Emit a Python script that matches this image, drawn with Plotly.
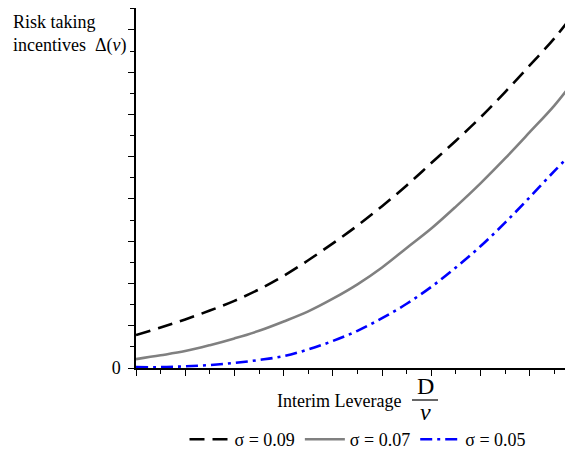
import plotly.graph_objects as go

# Data (x and y in major-tick units; ticks are unlabeled)
x_vals = [0.0, 0.5, 1.0, 1.5, 2.0, 2.5, 3.0, 3.5, 4.0, 4.5, 5.0, 5.5, 6.0,
          6.5, 7.0, 7.5, 8.0, 8.5, 8.88]
delta_s09 = [0.78, 0.96, 1.15, 1.36, 1.59, 1.86, 2.18, 2.55, 2.95, 3.37, 3.83,
             4.32, 4.85, 5.38, 5.93, 6.53, 7.16, 7.80, 8.36]
delta_s07 = [0.21, 0.30, 0.40, 0.54, 0.70, 0.88, 1.10, 1.34, 1.64, 1.98, 2.38,
             2.84, 3.30, 3.82, 4.37, 4.96, 5.58, 6.21, 6.77]
delta_s05 = [0.02, 0.02, 0.04, 0.07, 0.12, 0.19, 0.28, 0.44, 0.64, 0.88, 1.18,
             1.52, 1.92, 2.38, 2.88, 3.44, 4.04, 4.66, 5.11]
series_names = ["σ = 0.09", "σ = 0.07", "σ = 0.05"]
major_ticks = [0, 1, 2, 3, 4, 5, 6, 7, 8]
minor_ticks = [0.5, 1.5, 2.5, 3.5, 4.5, 5.5, 6.5, 7.5, 8.5]
y_tick_text = ["0", "", "", "", "", "", "", "", ""]

FONT = "Liberation Serif, Times New Roman, serif"

# page offset compensation (body margin 8px)
PX0, PW = 136, 437
PY_BOTTOM, PH = 368, 360


def px(x):
    return (x - PX0) / PW


def py(y):
    return (PY_BOTTOM - y) / PH


fig = go.Figure()
styles = [
    dict(color="black", width=2.6, dash="15px,8px"),
    dict(color="#808080", width=2.6, dash="solid"),
    dict(color="#0000FF", width=2.6, dash="12px,5px,3px,5px"),
]
for ys, name, st in zip([delta_s09, delta_s07, delta_s05], series_names, styles):
    fig.add_trace(go.Scatter(x=x_vals, y=ys, mode="lines", name=name,
                             line=dict(shape="spline", smoothing=1.0, **st)))

tick_common = dict(ticks="outside", tickcolor="black", tickwidth=1.2)

fig.update_layout(
    width=565, height=450,
    margin=dict(l=128, r=0, t=0, b=90, pad=0),
    paper_bgcolor="white", plot_bgcolor="white",
    font=dict(family=FONT, size=18, color="black"),
    showlegend=True,
    legend=dict(orientation="h", x=px(358), xanchor="center", y=py(440), yanchor="middle",
                font=dict(family=FONT, size=18), itemwidth=40,
                tracegroupgap=0, bgcolor="rgba(0,0,0,0)"),
    xaxis=dict(range=[0, 8.88], showgrid=False, zeroline=False,
               showline=True, linecolor="black", linewidth=1.5,
               tickmode="array", tickvals=major_ticks, ticktext=[""] * len(major_ticks),
               ticklen=6, **tick_common,
               minor=dict(tickmode="array", tickvals=minor_ticks, ticklen=4,
                          showgrid=False, **tick_common)),
    yaxis=dict(range=[0, 8.52], showgrid=False, zeroline=False,
               showline=True, linecolor="black", linewidth=1.5,
               tickmode="array", tickvals=major_ticks, ticktext=y_tick_text,
               ticklen=6, ticklabelstandoff=4, **tick_common,
               tickfont=dict(family=FONT, size=18),
               minor=dict(tickmode="array", tickvals=minor_ticks, ticklen=4,
                          showgrid=False, **tick_common)),
)

# Y axis title (top-left)
fig.add_annotation(xref="paper", yref="paper", x=px(11), y=py(10), xanchor="left", yanchor="top",
                   text="Risk taking<br>incentives  Δ(<i>v</i>)", showarrow=False, align="left",
                   font=dict(family=FONT, size=18))
# X axis title with fraction
fig.add_annotation(xref="paper", yref="paper", x=px(275), y=py(401),
                   xanchor="left", yanchor="middle", text="Interim Leverage", showarrow=False,
                   font=dict(family=FONT, size=18))
fig.add_annotation(xref="paper", yref="paper", x=px(425), y=py(386),
                   xanchor="center", yanchor="middle", text="D", showarrow=False,
                   font=dict(family=FONT, size=24))
fig.add_annotation(xref="paper", yref="paper", x=px(425), y=py(412),
                   xanchor="center", yanchor="middle", text="<i>v</i>", showarrow=False,
                   font=dict(family=FONT, size=24))
fig.add_shape(type="line", xref="paper", yref="paper",
              x0=px(412), x1=px(438), y0=py(400), y1=py(400),
              line=dict(color="black", width=1.2))

fig.write_html("out.html")
